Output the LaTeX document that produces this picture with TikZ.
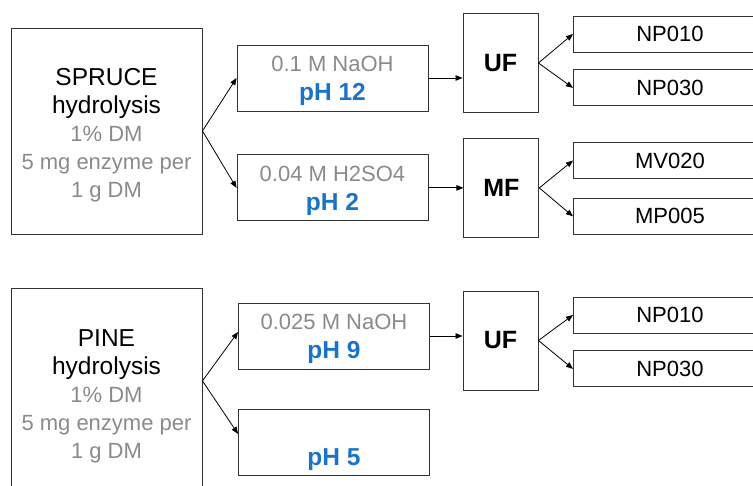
\documentclass[tikz,border=0pt]{standalone}
\usepackage{fontspec}
\setmainfont{Liberation Sans}
\usepackage{xcolor}
\usetikzlibrary{positioning,arrows.meta}
\definecolor{note}{HTML}{8A8A8A}
\definecolor{phblue}{HTML}{1A73C6}
\definecolor{edge}{HTML}{333333}
\newcommand\gry[1]{{\fontsize{22}{27}\selectfont\color{note}#1}}
\newcommand\phv[1]{{\fontsize{24.5}{29}\selectfont\bfseries\color{phblue}#1}}
\newcommand\lift[1]{\rule{0pt}{#1}}

\begin{document}
\begin{tikzpicture}[x=1pt, y=-1pt,
  box/.style={draw=edge, line width=0.9pt, align=center, inner sep=0pt, font=\fontsize{22}{27}\selectfont},
  feed/.style={box, minimum width=191pt, minimum height=206pt, font=\fontsize{24.5}{28}\selectfont},
  cond/.style={box, minimum width=191pt, minimum height=66pt, font=\fontsize{22}{29}\selectfont},
  filt/.style={box, minimum width=75pt, minimum height=99pt, font=\fontsize{25}{27}\selectfont\bfseries},
  memb/.style={box, minimum width=193pt, minimum height=36pt},
  arr/.style={-{Triangle[length=7pt,width=5.5pt]}, line width=0.8pt, black}]
\clip (0,0) rectangle (753,486);
% spruce branch
\node[feed] (spruce) at (106.5,131) {\lift{26pt}SPRUCE\\hydrolysis\\\gry{1\% DM}\\\gry{5 mg enzyme per}\\\gry{1 g DM}};
\node[cond] (naoh) at (332.5,78) {\gry{\lift{21pt}0.1 M NaOH}\\\phv{pH 12}};
\node[cond, below=43pt of naoh] (acid) {\gry{\lift{21pt}0.04 M H2SO4}\\\phv{pH 2}};
\node[filt] (uf) at (500.5,63) {UF};
\node[filt, right=35pt of acid] (mf) {MF};
\node[memb, anchor=west] (np1) at (573,34) {NP010};
\node[memb, below=17pt of np1] (np3) {NP030};
\node[memb, anchor=west] (mv) at (573,160.5) {MV020};
\node[memb, below=19pt of mv] (mp) {MP005};
% pine branch
\node[feed, below=54pt of spruce] (pine) {\lift{26pt}PINE\\hydrolysis\\\gry{1\% DM}\\\gry{5 mg enzyme per}\\\gry{1 g DM}};
\node[cond] (naohb) at (334,336) {\gry{\lift{21pt}0.025 M NaOH}\\\phv{pH 9}};
\node[cond, below=40pt of naohb] (phf) {\gry{\lift{21pt}}\\\phv{pH 5}};
\node[filt] (ufb) at (500.5,340.5) {UF};
\node[memb, anchor=west] (np1b) at (573,315) {NP010};
\node[memb, below=17pt of np1b] (np3b) {NP030};
\draw[arr] (spruce.east) -- (naoh.west); \draw[arr] (spruce.east) -- (acid.west);
\draw[arr] (naoh.east) -- (naoh.east -| uf.west); \draw[arr] (acid.east) -- (mf.west);
\draw[arr] (uf.east) -- (np1.west); \draw[arr] (uf.east) -- (np3.west);
\draw[arr] (mf.east) -- (mv.west); \draw[arr] (mf.east) -- (mp.west);
\draw[arr] ([yshift=11pt]pine.east) -- ([yshift=4pt]naohb.west);
\draw[arr] ([yshift=11pt]pine.east) -- ([yshift=9pt]phf.west);
\draw[arr] (naohb.east) -- (naohb.east -| ufb.west);
\draw[arr] (ufb.east) -- (np1b.west); \draw[arr] (ufb.east) -- (np3b.west);
\end{tikzpicture}
\end{document}
